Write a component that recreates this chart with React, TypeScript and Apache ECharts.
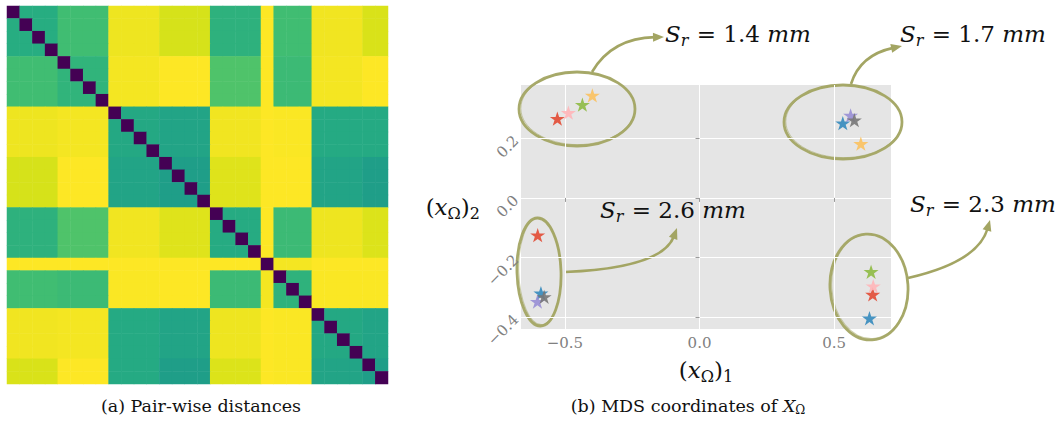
import React, { useEffect, useRef } from "react";
import * as echarts from "echarts";

// ---------- (a) pair-wise distance matrix (30 samples, block structure) ----------
const blockSizes = [4, 4, 4, 4, 4, 1, 3, 4, 2];
const blockDist = [
  [0.62, 0.69, 0.975, 0.935, 0.64, 1.0, 0.69, 0.98, 0.94],
  [0.69, 0.65, 0.985, 1.0, 0.72, 1.0, 0.68, 0.985, 1.0],
  [0.975, 0.985, 0.6, 0.58, 0.98, 1.0, 0.995, 0.605, 0.605],
  [0.935, 1.0, 0.58, 0.555, 0.95, 1.0, 1.0, 0.58, 0.555],
  [0.64, 0.72, 0.98, 0.95, 0.61, 1.0, 0.68, 0.975, 0.945],
  [1.0, 1.0, 1.0, 1.0, 1.0, 0.0, 0.985, 1.0, 1.0],
  [0.69, 0.68, 0.995, 1.0, 0.68, 0.985, 0.645, 0.995, 0.995],
  [0.98, 0.985, 0.605, 0.58, 0.975, 1.0, 0.995, 0.6, 0.58],
  [0.94, 1.0, 0.605, 0.555, 0.945, 1.0, 0.995, 0.58, 0.555],
];

// ---------- (b) MDS coordinates ----------
const xTicks = [-0.5, 0, 0.5];
const yTicks = [-0.4, -0.2, 0, 0.2];
const redPts = [[-0.528, 0.266], [-0.601, -0.125], [0.643, -0.324]];
const bluePts = [[0.532, 0.251], [-0.589, -0.32], [0.631, -0.404]];
const purplePts = [[0.561, 0.277], [-0.602, -0.348]];
const grayPts = [[0.575, 0.261], [-0.577, -0.332]];
const orangePts = [[-0.398, 0.344], [0.599, 0.182]];
const greenPts = [[-0.435, 0.313], [0.637, -0.248]];
const pinkPts = [[-0.487, 0.286], [0.645, -0.296]];
const annotations = ["1.4", "1.7", "2.6", "2.3"];

const VIRIDIS = [
  "#440154", "#471365", "#482475", "#433e85", "#3b528b", "#355f8d", "#2c728e", "#27818e",
  "#21918c", "#1fa088", "#28ae80", "#3fbc73", "#5ec962", "#84d44b", "#addc30", "#d8e219", "#fde725",
];
const OLIVE = "#a3a563";
const CM = "DejaVu Serif";
const STAR = "path://M0,-10 L2.245,-3.09 L9.51,-3.09 L3.633,1.18 L5.88,8.09 L0,3.82 L-5.88,8.09 L-3.633,1.18 L-9.51,-3.09 L-2.245,-3.09 Z";

function buildCells() {
  const groupOf: number[] = [];
  blockSizes.forEach((n, g) => {
    for (let k = 0; k < n; k++) groupOf.push(g);
  });
  const cells: number[][] = [];
  for (let i = 0; i < groupOf.length; i++) {
    for (let j = 0; j < groupOf.length; j++) {
      cells.push([j, i, i === j ? 0 : blockDist[groupOf[i]][groupOf[j]]]);
    }
  }
  return { n: groupOf.length, cells };
}

function arrow(x1: number, y1: number, cx: number, cy: number, x2: number, y2: number) {
  const dx = x2 - cx, dy = y2 - cy;
  const L = Math.hypot(dx, dy);
  const ux = dx / L, uy = dy / L;
  const hl = 11, hw = 4.5;
  const bx = x2 - ux * hl, by = y2 - uy * hl;
  return [
    { type: "bezierCurve", shape: { x1, y1, x2: bx + ux * 2, y2: by + uy * 2, cpx1: cx, cpy1: cy }, style: { stroke: OLIVE, lineWidth: 2.6, fill: null } },
    { type: "polygon", shape: { points: [[x2, y2], [bx - uy * hw, by + ux * hw], [bx + uy * hw, by - ux * hw]] }, style: { fill: OLIVE } },
  ];
}

function ellipse(cx: number, cy: number, rx: number, ry: number, rot = 0) {
  return [
    { type: "ellipse", x: cx, y: cy, rotation: rot, shape: { cx: 0, cy: 0, rx, ry }, style: { stroke: OLIVE, lineWidth: 2.8, fill: null, opacity: 0.95 } },
    { type: "ellipse", x: cx + 0.8, y: cy - 0.6, rotation: rot, shape: { cx: 0, cy: 0, rx: rx - 1, ry: ry - 0.8 }, style: { stroke: OLIVE, lineWidth: 1, fill: null, opacity: 0.55 } },
  ];
}

const annRich = {
  i: { fontFamily: CM, fontStyle: "italic", fontSize: 23, fill: "#111" },
  s: { fontFamily: CM, fontStyle: "italic", fontSize: 16, padding: [12, 1, 0, 0], fill: "#111" },
  n: { fontFamily: CM, fontSize: 23, fill: "#111" },
};

function annText(label: string, x: number, y: number) {
  return {
    type: "text",
    x,
    y,
    style: {
      text: `{i|S}{s|r}{n| = ${label} }{i|mm}`,
      rich: annRich,
      verticalAlign: "middle",
      align: "left",
    },
  };
}

const nameRich = {
  n: { fontFamily: CM, fontSize: 23, color: "#111" },
  i: { fontFamily: CM, fontSize: 23, fontStyle: "italic", color: "#111" },
  s: { fontFamily: CM, fontSize: 16, color: "#111", padding: [12, 0, 0, 0] },
};

const fmt = (v: number) => (v < 0 ? "\u2212" : "") + Math.abs(v).toFixed(1);

export default function App() {
  const ref = useRef<HTMLDivElement>(null);
  useEffect(() => {
    if (!ref.current) return;
    const chart = echarts.init(ref.current, null, { renderer: "svg" });
    const { n, cells } = buildCells();
    const idx = Array.from({ length: n }, (_, k) => String(k));
    const starSeries = [
      ["red", redPts, "#E24A33"],
      ["blue", bluePts, "#348ABD"],
      ["purple", purplePts, "#988ED5"],
      ["gray", grayPts, "#777777"],
      ["orange", orangePts, "#FBC15E"],
      ["green", greenPts, "#8EBA42"],
      ["pink", pinkPts, "#FFB5B8"],
    ].map(([name, pts, color]) => ({
      name,
      type: "scatter",
      xAxisIndex: 1,
      yAxisIndex: 1,
      data: pts,
      symbol: STAR,
      symbolSize: [15, 14.3],
      itemStyle: { color, opacity: 0.9 },
      z: 5,
    }));

    const graphic: any[] = [
      ...ellipse(577, 109, 58, 37),
      ...ellipse(843, 122, 59, 37),
      ...ellipse(539, 272, 22, 54, 0.03),
      ...ellipse(869, 287, 39, 53, 0.06),
      ...arrow(592, 72, 612, 38, 664, 37),
      ...arrow(851, 84, 860, 55, 902, 46),
      ...arrow(565, 272, 662, 268, 677, 228),
      ...arrow(908, 278, 978, 262, 990, 220),
      annText(annotations[0], 665, 34),
      annText(annotations[1], 900, 34),
      annText(annotations[2], 600, 210),
      annText(annotations[3], 910, 204),
      {
        type: "text",
        x: 201,
        y: 406,
        style: { text: "(a) Pair-wise distances", fontFamily: CM, fontSize: 17.5, fill: "#111", align: "center", verticalAlign: "middle" },
      },
      {
        type: "text",
        x: 688,
        y: 406,
        style: {
          text: "{n|(b) MDS coordinates of }{i|X}{s|Ω}",
          rich: {
            n: { fontFamily: CM, fontSize: 17.5, fill: "#111" },
            i: { fontFamily: CM, fontSize: 17.5, fontStyle: "italic", fill: "#111" },
            s: { fontFamily: CM, fontSize: 12, fill: "#111", padding: [8, 0, 0, 0] },
          },
          align: "center",
          verticalAlign: "middle",
        },
      },
    ];

    chart.setOption({
      animation: false,
      backgroundColor: "#ffffff",
      grid: [
        { left: 7, top: 6, width: 381, height: 378 },
        { left: 521, top: 85, width: 370, height: 244, show: true, backgroundColor: "#e5e5e5", borderWidth: 0 },
      ],
      visualMap: [
        { type: "continuous", min: 0, max: 1, show: false, seriesIndex: 0, inRange: { color: VIRIDIS } },
      ],
      xAxis: [
        { gridIndex: 0, type: "category", data: idx, show: false },
        {
          gridIndex: 1,
          type: "value",
          min: -0.663,
          max: 0.711,
          axisLine: { show: false },
          axisTick: { show: true, length: 4, lineStyle: { color: "#9a9a9a" }, customValues: xTicks },
          axisLabel: { customValues: xTicks, formatter: fmt, color: "#808080", fontFamily: CM, fontSize: 15, margin: 6 },
          splitLine: { show: true, lineStyle: { color: "#ffffff", width: 1 } },
          name: "{n|(}{i|x}{s|Ω}{n|)}{s|1}",
          nameLocation: "middle",
          nameGap: 27,
          nameTextStyle: { rich: nameRich },
        },
      ],
      yAxis: [
        { gridIndex: 0, type: "category", data: idx, show: false, inverse: true },
        {
          gridIndex: 1,
          type: "value",
          min: -0.44,
          max: 0.379,
          axisLine: { show: false },
          axisTick: { show: true, length: 4, lineStyle: { color: "#9a9a9a" }, customValues: yTicks },
          axisLabel: { customValues: yTicks, formatter: fmt, color: "#808080", fontFamily: CM, fontSize: 15, margin: 5, rotate: 45 },
          splitLine: { show: true, lineStyle: { color: "#ffffff", width: 1 } },
          name: "{n|(}{i|x}{s|Ω}{n|)}{s|2}",
          nameLocation: "middle",
          nameRotate: 0,
          nameGap: 41,
          nameTextStyle: { rich: nameRich },
        },
      ],
      series: [
        {
          type: "heatmap",
          xAxisIndex: 0,
          yAxisIndex: 0,
          data: cells,
          itemStyle: { borderWidth: 0 },
          emphasis: { disabled: true },
        },
        ...starSeries,
      ],
      graphic,
    });
    return () => chart.dispose();
  }, []);
  return <div ref={ref} style={{ position: "absolute", left: 0, top: 0, width: 1063, height: 433 }} />;
}
